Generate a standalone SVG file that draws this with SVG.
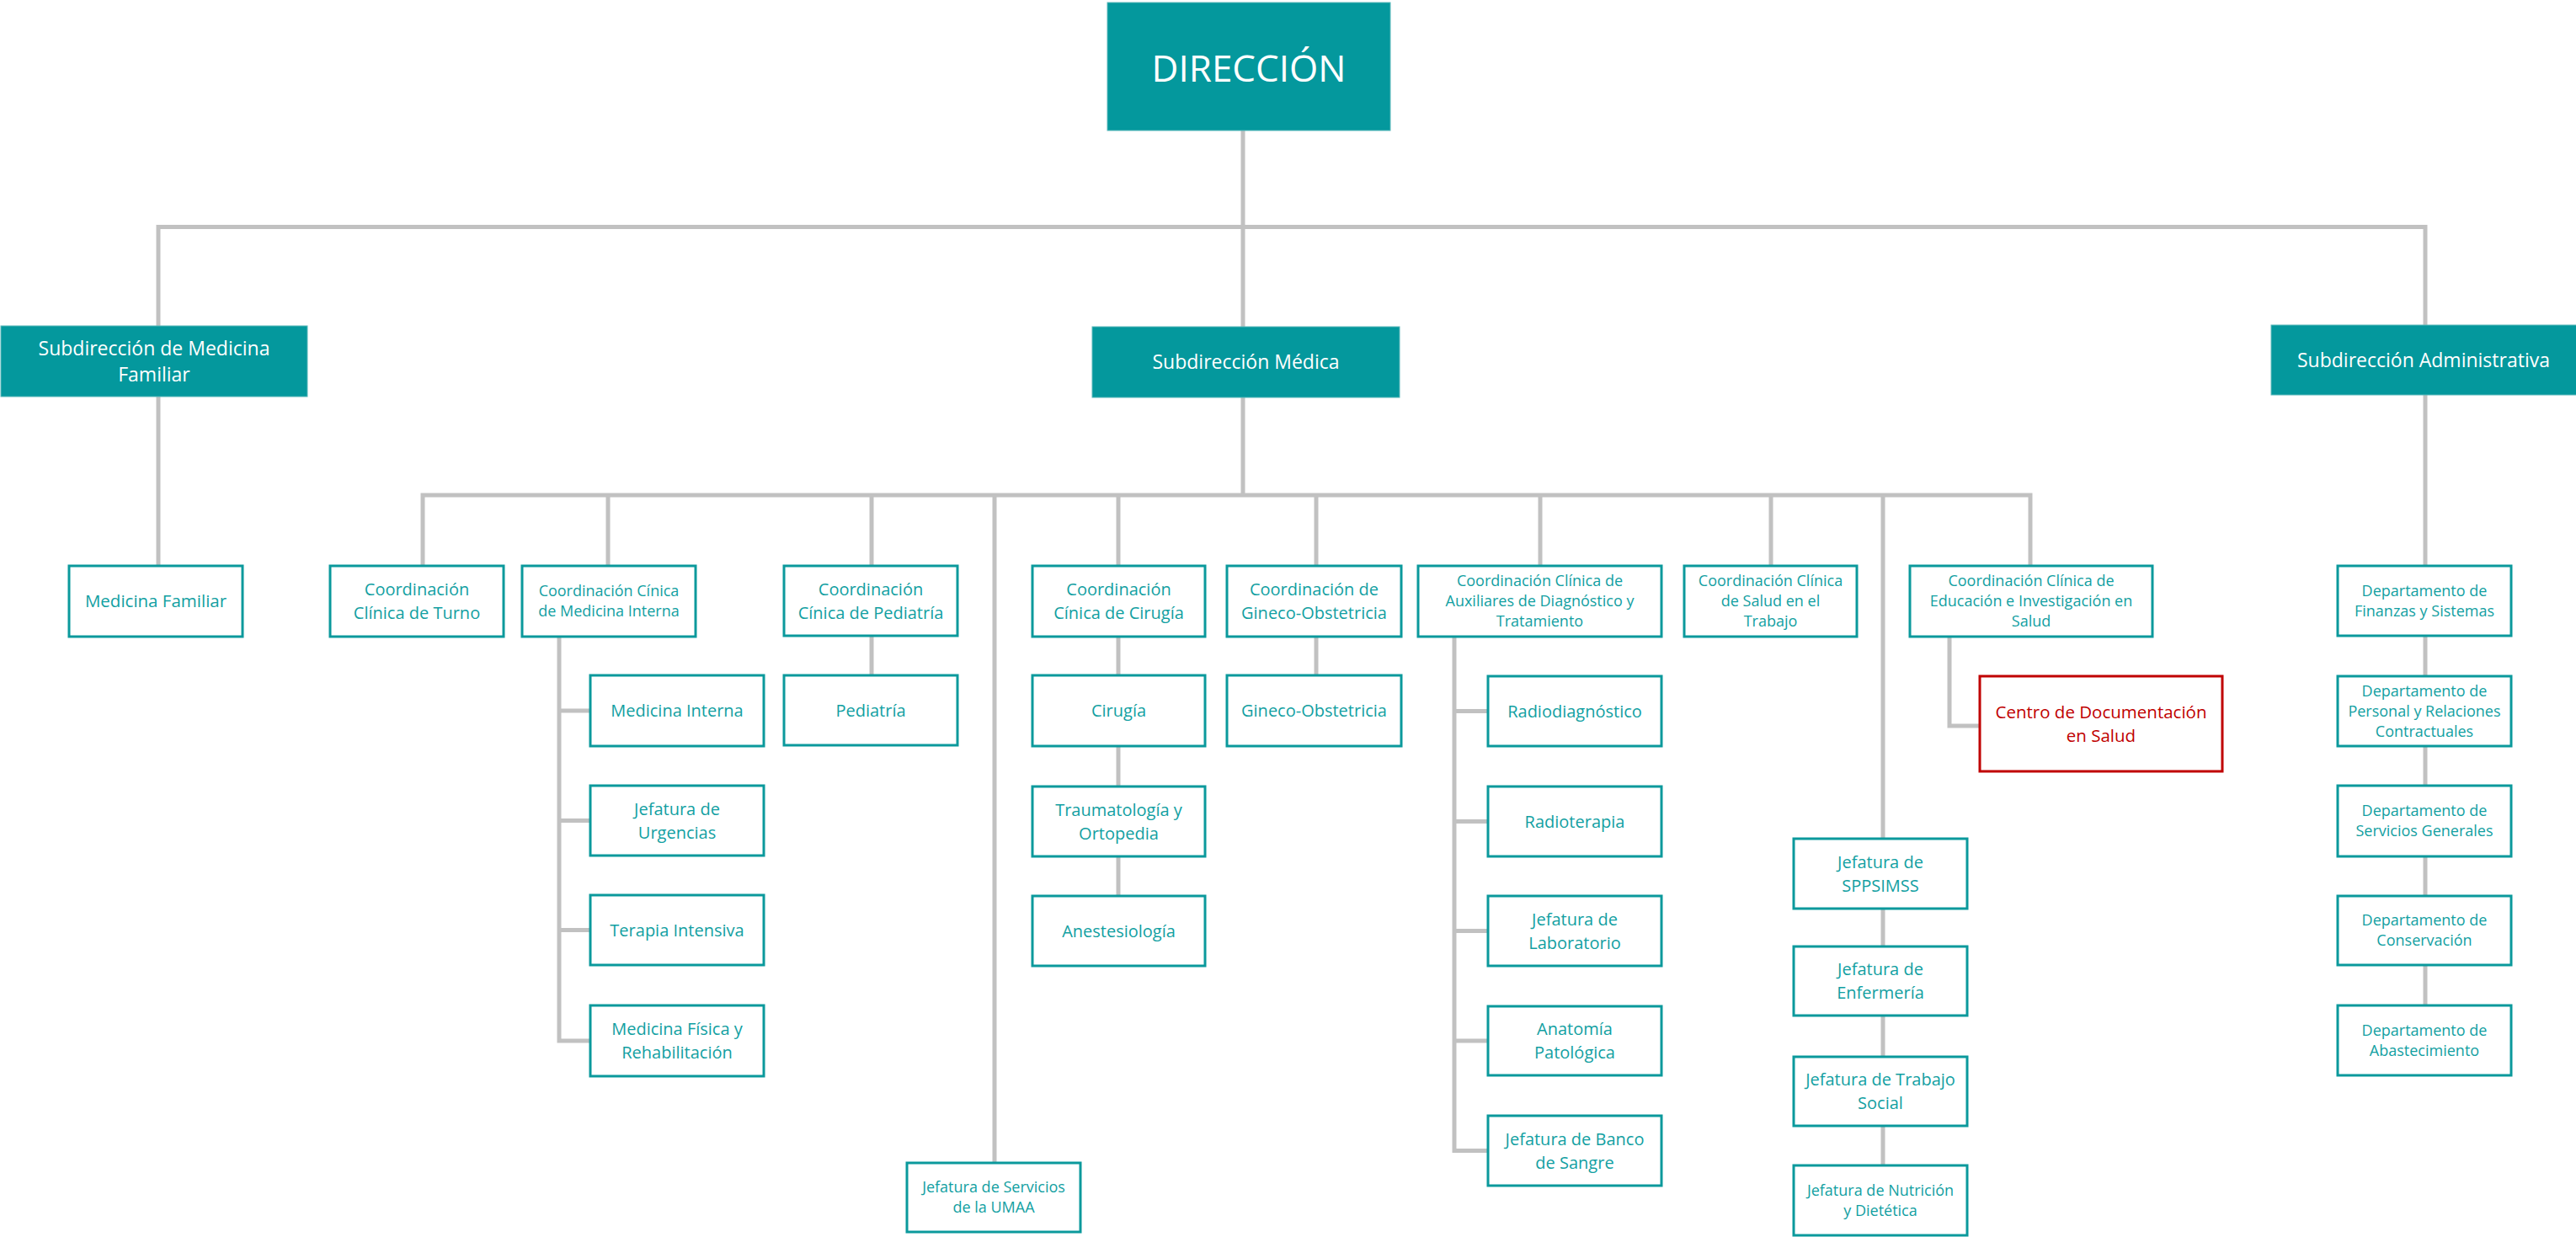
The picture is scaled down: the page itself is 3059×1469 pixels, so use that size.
<svg xmlns="http://www.w3.org/2000/svg" width="3059" height="1469" viewBox="0 0 3059 1469">
<style>
.conn{stroke:#c1c1c1;stroke-width:5;fill:none;stroke-linecap:butt;stroke-linejoin:miter}
.box{fill:#ffffff;stroke:#0b999c;stroke-width:3}
.red{fill:#ffffff;stroke:#c00000;stroke-width:3}
.fill{fill:#04989d;stroke:#5bb8ba;stroke-width:1}
text{font-family:'Open Sans','Noto Sans','Liberation Sans',sans-serif;text-anchor:middle}
.t{fill:#12a0a2;font-size:20px}
.s{fill:#12a0a2;font-size:18px}
.w{fill:#ffffff;font-size:23px}
.r{fill:#c00000;font-size:20.5px}
</style>
<rect width="3059" height="1469" fill="#ffffff"/>
<g id="connectors">
<path class="conn" d="M1476 155 V388"/>
<path class="conn" d="M188 387 V269.5 H2880 V386"/>
<path class="conn" d="M188 471 V672"/>
<path class="conn" d="M1476 472 V588"/>
<path class="conn" d="M502 672 V588 H2411 V672"/>
<path class="conn" d="M722 588 V672"/>
<path class="conn" d="M1035 588 V672"/>
<path class="conn" d="M1181 588 V1381"/>
<path class="conn" d="M1328 588 V672"/>
<path class="conn" d="M1563 588 V672"/>
<path class="conn" d="M1829 588 V672"/>
<path class="conn" d="M2103 588 V672"/>
<path class="conn" d="M2236 588 V996"/>
<path class="conn" d="M664 756 V1236 H701"/>
<path class="conn" d="M664 844 H701 M664 974.5 H701 M664 1104.5 H701"/>
<path class="conn" d="M1035 755 V802"/>
<path class="conn" d="M1328 756 V1064"/>
<path class="conn" d="M1563 756 V802"/>
<path class="conn" d="M1727 756 V1366.5 H1767"/>
<path class="conn" d="M1727 844.5 H1767 M1727 975.5 H1767 M1727 1105.5 H1767 M1727 1236 H1767"/>
<path class="conn" d="M2236 1079 V1384"/>
<path class="conn" d="M2315 756 V862 H2351"/>
<path class="conn" d="M2880 469 V1194"/>
</g>
<g id="direccion"><rect class="fill" x="1315" y="3" width="336" height="152"/><text class="w" style="font-size:44px" x="1483" y="97">DIRECCIÓN</text></g>
<g id="sub-medicina-familiar"><rect class="fill" x="1" y="387" width="364" height="84"/><text class="w" x="183" y="421.5">Subdirección de Medicina</text><text class="w" x="183" y="452.5">Familiar</text></g>
<g id="sub-medica"><rect class="fill" x="1297" y="388" width="365" height="84"/><text class="w" x="1479.5" y="438">Subdirección Médica</text></g>
<g id="sub-administrativa"><rect class="fill" x="2697" y="386" width="364" height="83"/><text class="w" x="2878" y="435.5">Subdirección Administrativa</text></g>

<g id="medicina-familiar"><rect class="box" x="82" y="672" width="206" height="84"/><text class="t" style="font-size:20.5px" x="185" y="721">Medicina Familiar</text></g>
<g id="coord-turno"><rect class="box" x="392" y="672" width="206" height="84"/><text class="t" x="495" y="707">Coordinación</text><text class="t" x="495" y="735">Clínica de Turno</text></g>
<g id="coord-medicina-interna"><rect class="box" x="620" y="672" width="206" height="84"/><text class="s" x="723" y="708.3">Coordinación Cínica</text><text class="s" x="723" y="732.3">de Medicina Interna</text></g>
<g id="medicina-interna"><rect class="box" x="701" y="802" width="206" height="84"/><text class="t" x="804" y="851">Medicina Interna</text></g>
<g id="urgencias"><rect class="box" x="701" y="933" width="206" height="83"/><text class="t" x="804" y="967.5">Jefatura de</text><text class="t" x="804" y="995.5">Urgencias</text></g>
<g id="terapia-intensiva"><rect class="box" x="701" y="1063" width="206" height="83"/><text class="t" x="804" y="1111.5">Terapia Intensiva</text></g>
<g id="medicina-fisica"><rect class="box" x="701" y="1194" width="206" height="84"/><text class="t" x="804" y="1229">Medicina Física y</text><text class="t" x="804" y="1257">Rehabilitación</text></g>

<g id="coord-pediatria"><rect class="box" x="931" y="672" width="206" height="83"/><text class="t" x="1034" y="707">Coordinación</text><text class="t" x="1034" y="735">Cínica de Pediatría</text></g>
<g id="pediatria"><rect class="box" x="931" y="802" width="206" height="83"/><text class="t" x="1034" y="850.5">Pediatría</text></g>
<g id="umaa"><rect class="box" x="1077" y="1381" width="206" height="82"/><text class="s" x="1180" y="1416.3">Jefatura de Servicios</text><text class="s" x="1180" y="1440.3">de la UMAA</text></g>

<g id="coord-cirugia"><rect class="box" x="1226" y="672" width="205" height="84"/><text class="t" x="1328.5" y="707">Coordinación</text><text class="t" x="1328.5" y="735">Cínica de Cirugía</text></g>
<g id="cirugia"><rect class="box" x="1226" y="802" width="205" height="84"/><text class="t" x="1328.5" y="851">Cirugía</text></g>
<g id="traumatologia"><rect class="box" x="1226" y="934" width="205" height="83"/><text class="t" x="1328.5" y="968.5">Traumatología y</text><text class="t" x="1328.5" y="996.5">Ortopedia</text></g>
<g id="anestesiologia"><rect class="box" x="1226" y="1064" width="205" height="83"/><text class="t" x="1328.5" y="1112.5">Anestesiología</text></g>

<g id="coord-gineco"><rect class="box" x="1457" y="672" width="207" height="84"/><text class="t" x="1560.5" y="707">Coordinación de</text><text class="t" x="1560.5" y="735">Gineco-Obstetricia</text></g>
<g id="gineco"><rect class="box" x="1457" y="802" width="207" height="84"/><text class="t" x="1560.5" y="851">Gineco-Obstetricia</text></g>

<g id="coord-auxiliares"><rect class="box" x="1684" y="672" width="289" height="84"/><text class="s" x="1828.5" y="696.3">Coordinación Clínica de</text><text class="s" x="1828.5" y="720.3">Auxiliares de Diagnóstico y</text><text class="s" x="1828.5" y="744.3">Tratamiento</text></g>
<g id="radiodiagnostico"><rect class="box" x="1767" y="803" width="206" height="83"/><text class="t" x="1870" y="851.5">Radiodiagnóstico</text></g>
<g id="radioterapia"><rect class="box" x="1767" y="934" width="206" height="83"/><text class="t" x="1870" y="982.5">Radioterapia</text></g>
<g id="laboratorio"><rect class="box" x="1767" y="1064" width="206" height="83"/><text class="t" x="1870" y="1098.5">Jefatura de</text><text class="t" x="1870" y="1126.5">Laboratorio</text></g>
<g id="anatomia"><rect class="box" x="1767" y="1195" width="206" height="82"/><text class="t" x="1870" y="1229">Anatomía</text><text class="t" x="1870" y="1257">Patológica</text></g>
<g id="banco-sangre"><rect class="box" x="1767" y="1325" width="206" height="83"/><text class="t" x="1870" y="1359.5">Jefatura de Banco</text><text class="t" x="1870" y="1387.5">de Sangre</text></g>

<g id="coord-salud-trabajo"><rect class="box" x="2000" y="672" width="205" height="84"/><text class="s" x="2102.5" y="696.3">Coordinación Clínica</text><text class="s" x="2102.5" y="720.3">de Salud en el</text><text class="s" x="2102.5" y="744.3">Trabajo</text></g>

<g id="sppsimss"><rect class="box" x="2130" y="996" width="206" height="83"/><text class="t" x="2233" y="1030.5">Jefatura de</text><text class="t" x="2233" y="1058.5">SPPSIMSS</text></g>
<g id="enfermeria"><rect class="box" x="2130" y="1124" width="206" height="82"/><text class="t" x="2233" y="1158">Jefatura de</text><text class="t" x="2233" y="1186">Enfermería</text></g>
<g id="trabajo-social"><rect class="box" x="2130" y="1255" width="206" height="82"/><text class="t" x="2233" y="1289">Jefatura de Trabajo</text><text class="t" x="2233" y="1317">Social</text></g>
<g id="nutricion"><rect class="box" x="2130" y="1384" width="206" height="83"/><text class="s" x="2233" y="1419.8">Jefatura de Nutrición</text><text class="s" x="2233" y="1443.8">y Dietética</text></g>

<g id="coord-educacion"><rect class="box" x="2268" y="672" width="288" height="84"/><text class="s" x="2412" y="696.3">Coordinación Clínica de</text><text class="s" x="2412" y="720.3">Educación e Investigación en</text><text class="s" x="2412" y="744.3">Salud</text></g>
<g id="centro-documentacion"><rect class="red" x="2351" y="803" width="288" height="113"/><text class="r" x="2495" y="852.7">Centro de Documentación</text><text class="r" x="2495" y="880.7">en Salud</text></g>

<g id="dep-finanzas"><rect class="box" x="2776" y="672" width="206" height="83"/><text class="s" x="2879" y="707.8">Departamento de</text><text class="s" x="2879" y="731.8">Finanzas y Sistemas</text></g>
<g id="dep-personal"><rect class="box" x="2776" y="803" width="206" height="83"/><text class="s" x="2879" y="826.8">Departamento de</text><text class="s" x="2879" y="850.8">Personal y Relaciones</text><text class="s" x="2879" y="874.8">Contractuales</text></g>
<g id="dep-servicios"><rect class="box" x="2776" y="933" width="206" height="84"/><text class="s" x="2879" y="969.3">Departamento de</text><text class="s" x="2879" y="993.3">Servicios Generales</text></g>
<g id="dep-conservacion"><rect class="box" x="2776" y="1064" width="206" height="82"/><text class="s" x="2879" y="1099.3">Departamento de</text><text class="s" x="2879" y="1123.3">Conservación</text></g>
<g id="dep-abastecimiento"><rect class="box" x="2776" y="1194" width="206" height="83"/><text class="s" x="2879" y="1229.8">Departamento de</text><text class="s" x="2879" y="1253.8">Abastecimiento</text></g>
</svg>
